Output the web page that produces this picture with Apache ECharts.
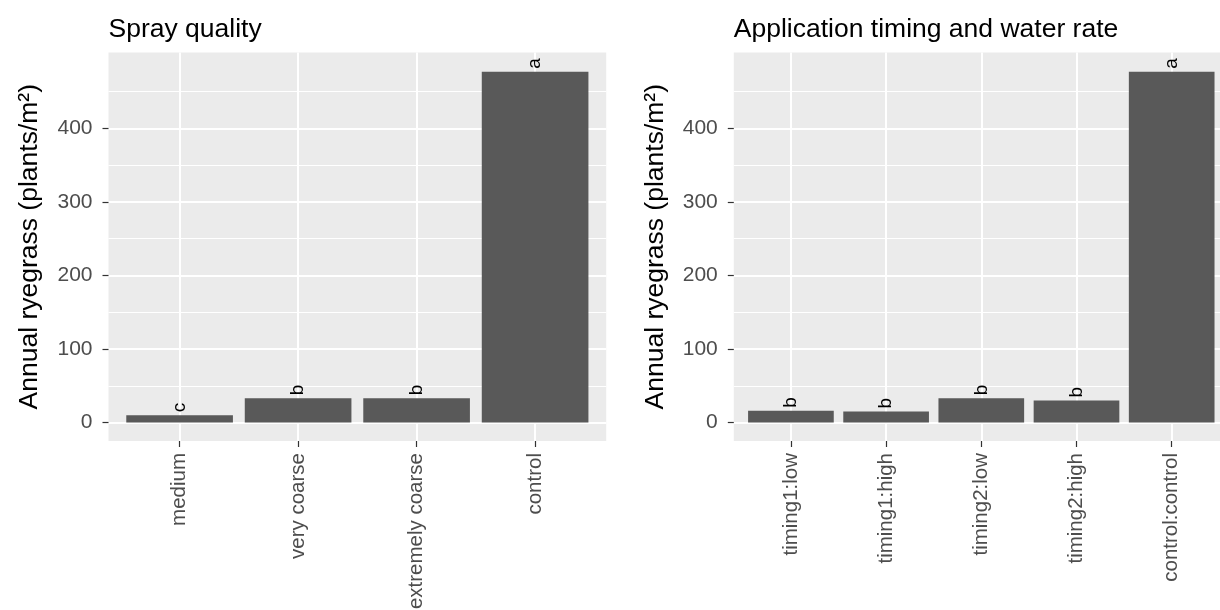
<!DOCTYPE html>
<html>
<head>
<meta charset="utf-8">
<script src="https://cdn.jsdelivr.net/npm/echarts@6/dist/echarts.min.js"></script>
<style>
  html, body { margin: 0; padding: 0; background: #fff; }
  #main { width: 1220px; height: 610px; }
</style>
</head>
<body>
<div id="main"></div>
<script>
// data
var sprayCats = ["medium", "very coarse", "extremely coarse", "control"];
var sprayVals = [10, 33, 33, 477];
var sprayLetters = ["c", "b", "b", "a"];

var timingCats = ["timing1:low", "timing1:high", "timing2:low", "timing2:high", "control:control"];
var timingVals = [16, 15, 33, 30, 477];
var timingLetters = ["b", "b", "b", "b", "a"];

var yTicks = [0, 100, 200, 300, 400];
var yName = "Annual ryegrass (plants/m²)";

// layout (ggplot-like panels)
var W = 1220, H = 610;
var panelTop = 52.5, panelBottom = 441;
var yMin = -25, yMax = 503;
var font = "Liberation Sans, Arial, sans-serif";

function yPix(v) {
  return panelTop + (yMax - v) / (yMax - yMin) * (panelBottom - panelTop);
}

// minor grid lines at 50, 150, ... (one colour per split line)
function minorColors() {
  var c = [];
  for (var v = yMin; v <= yMax; v += 25) {
    c.push(v > 0 && v % 100 === 50 ? "#ffffff" : "rgba(0,0,0,0)");
  }
  c.push("rgba(0,0,0,0)");
  return c;
}

var option = {
  animation: false,
  textStyle: { fontFamily: font },
  title: [],
  grid: [],
  xAxis: [],
  yAxis: [],
  series: []
};

function addPanel(left, right, cats, vals, letters, title) {
  var u = (right - left) / (cats.length + 0.2);
  var dl = left + 0.6 * u, dr = right - 0.6 * u;
  var gi = option.grid.length;

  option.title.push({
    text: title, left: left, top: 16, padding: 0,
    textStyle: { fontFamily: font, fontSize: 26.5, fontWeight: "normal", color: "#000" }
  });

  // panel background + minor lines
  option.grid.push({ left: left, right: W - right, top: panelTop, bottom: H - panelBottom,
    outerBoundsMode: "none", show: true, backgroundColor: "#EBEBEB", borderWidth: 0 });
  // major lines + y labels
  option.grid.push({ left: left, right: W - right, top: yPix(yTicks[yTicks.length - 1]), bottom: H - yPix(yTicks[0]),
    outerBoundsMode: "none" });
  // bars
  option.grid.push({ left: dl, right: W - dr, top: panelTop, bottom: H - panelBottom,
    outerBoundsMode: "none" });

  option.xAxis.push({ gridIndex: gi, type: "value", show: false });
  option.xAxis.push({ gridIndex: gi + 1, type: "value", show: false });
  option.xAxis.push({
    gridIndex: gi + 2, type: "category", data: cats, boundaryGap: false,
    axisLine: { show: false, onZero: false },
    axisTick: { show: true, length: 6, lineStyle: { color: "#333333", width: 1.2 } },
    axisLabel: { interval: 0, rotate: 90, color: "#4D4D4D", fontSize: 20.5, margin: 12 },
    splitLine: { show: true, lineStyle: { color: "#ffffff", width: 2 } }
  });

  option.yAxis.push({
    gridIndex: gi, type: "value", min: yMin, max: yMax, interval: 25,
    name: yName, nameLocation: "middle", nameRotate: 90, nameGap: 65,
    nameTextStyle: { fontFamily: font, fontSize: 26.5, color: "#000" },
    axisLine: { show: false }, axisTick: { show: false }, axisLabel: { show: false },
    splitLine: { show: true, lineStyle: { color: minorColors(), width: 1 } }
  });
  option.yAxis.push({
    gridIndex: gi + 1, type: "value", min: yTicks[0], max: yTicks[yTicks.length - 1], interval: 100,
    axisLine: { show: false },
    axisTick: { show: true, length: 6, lineStyle: { color: "#333333", width: 1.2 } },
    axisLabel: { color: "#4D4D4D", fontSize: 21, margin: 16 },
    splitLine: { show: true, lineStyle: { color: "#ffffff", width: 2 } }
  });
  option.yAxis.push({ gridIndex: gi + 2, type: "value", min: yMin, max: yMax, show: false });

  option.series.push({
    type: "bar",
    xAxisIndex: gi + 2,
    yAxisIndex: gi + 2,
    data: vals,
    barWidth: 0.9 * u,
    clip: false,
    itemStyle: { color: "#595959" },
    label: {
      show: true,
      position: "top",
      distance: 3,
      rotate: 90,
      align: "left",
      verticalAlign: "middle",
      fontSize: 19,
      color: "#000",
      formatter: function (p) { return letters[p.dataIndex]; }
    }
  });
}

addPanel(108.5, 606.2, sprayCats, sprayVals, sprayLetters, "Spray quality");
addPanel(733.8, 1228.8, timingCats, timingVals, timingLetters, "Application timing and water rate");

var chart = echarts.init(document.getElementById("main"));
chart.setOption(option);
</script>
</body>
</html>
